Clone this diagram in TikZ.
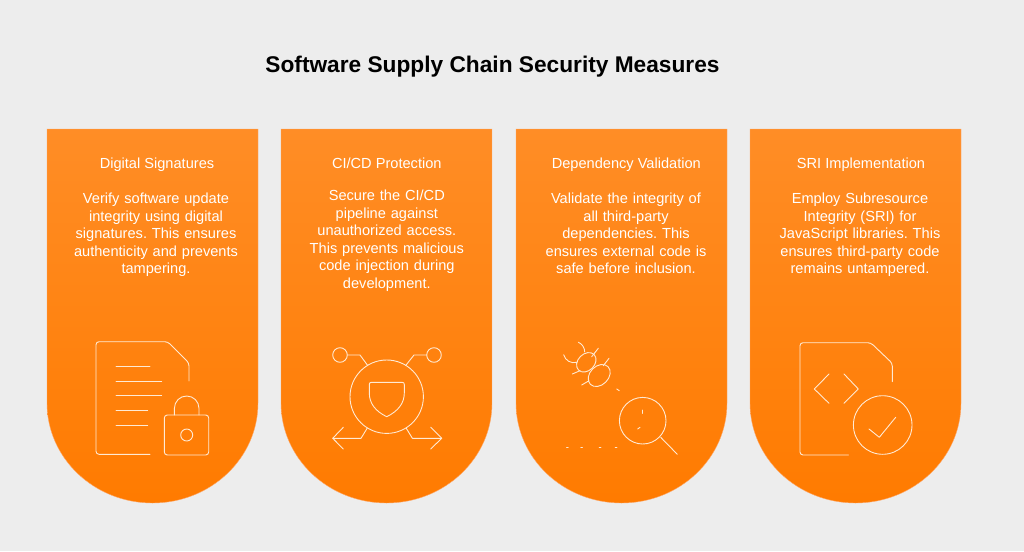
\documentclass[tikz,border=0pt]{standalone}
\usepackage{fontspec}
\setmainfont{Liberation Sans}
\frenchspacing
\definecolor{bg}{RGB}{237,237,237}
\definecolor{ptop}{RGB}{255,141,38}
\definecolor{pbot}{RGB}{255,123,0}
\definecolor{iconc}{RGB}{255,234,212}
\definecolor{pedge}{RGB}{255,168,105}
\begin{document}
\begin{tikzpicture}[x=1pt,y=-1pt,
  panel/.style={top color=ptop,bottom color=pbot,draw=pedge,line width=0.4pt},
  ptitle/.style={text=white,font=\fontsize{14.6}{17.5}\selectfont,anchor=base,inner sep=0pt},
  pbody/.style={text=white,font=\fontsize{14.6}{17.5}\selectfont\frenchspacing,anchor=north,inner sep=0pt,align=center,text width=205pt},
  icon/.style={draw=iconc,line width=0.9pt,line cap=round,line join=round}]
\fill[bg] (0,0) rectangle (1024,551);
\useasboundingbox (0,0) rectangle (1024,551);

% title
\node[anchor=base,inner sep=0pt,font=\bfseries\fontsize{22.7}{27}\selectfont] (title) at (492.5,72.3) {Software Supply Chain Security Measures};

% panels
\foreach \L in {47,281,516,750}{
  \path[panel] (\L,129) -- ++(211,0) -- ++(0,274)
    arc[start angle=0,end angle=-180,x radius=105.5pt,y radius=100pt] -- cycle;
}

% panel texts
\node[ptitle] (t1) at (157,168.5) {Digital Signatures};
\node[pbody] (b1) at (156,191.05) {\strut Verify software update\\integrity using digital\\signatures. This ensures\\authenticity and prevents\\tampering.};
\node[ptitle] (t2) at (386.8,168.5) {CI/CD Protection};
\node[pbody] (b2) at (386.8,188.45) {\strut Secure the CI/CD\\pipeline against\\unauthorized access.\\This prevents malicious\\code injection during\\development.};
\node[ptitle] (t3) at (626.3,168.5) {Dependency Validation};
\node[pbody] (b3) at (626,191.05) {\strut Validate the integrity of\\all third-party\\dependencies. This\\ensures external code is\\safe before inclusion.};
\node[ptitle] (t4) at (861,168.5) {SRI Implementation};
\node[pbody] (b4) at (860,191.05) {\strut Employ Subresource\\Integrity (SRI) for\\JavaScript libraries. This\\ensures third-party code\\remains untampered.};

% icon 1: document with lock
\draw[icon,rounded corners=3pt] (150,454.3) -- (96,454.3) -- (96,341.7) -- (167.7,341.7) -- (189,363) -- (189,381);
\draw[icon] (116,366.7) -- (150,366.7);
\draw[icon] (116,381.3) -- (161.7,381.3);
\draw[icon] (116,395.7) -- (161.7,395.7);
\draw[icon] (116,410.3) -- (147.7,410.3);
\draw[icon] (116,425) -- (147.7,425);
\draw[icon,rounded corners=3pt] (164.3,415) rectangle (208.7,455);
\draw[icon] (174.4,415) -- (174.4,408.3) arc[start angle=180,end angle=0,radius=12.3pt] -- (199,415);
\draw[icon] (186.7,435) circle[radius=6pt];

% icon 2: shield in circle with connectors
\draw[icon] (386.7,396.7) circle[radius=36.7pt];
\draw[icon] (386.7,416.7) .. controls (375,411) and (369.3,403) .. (369.3,393) -- (369.3,384.5)
  .. controls (369.3,383) and (370,382.3) .. (371.5,382.3) -- (402,382.3)
  .. controls (403.6,382.3) and (404.3,383) .. (404.3,384.5) -- (404.3,393)
  .. controls (404.3,403) and (398.4,411) .. cycle;
\draw[icon] (340,355) circle[radius=7.3pt];
\draw[icon] (434,355) circle[radius=7.3pt];
\draw[icon] (347.3,355) -- (360,355) -- (367.7,365.5);
\draw[icon] (426.7,355) -- (414,355) -- (405.7,365.5);
\draw[icon] (367.3,428) -- (361,438.3) -- (332.7,438.3);
\draw[icon] (343.3,427.3) -- (332.7,438.3) -- (343.3,449);
\draw[icon] (406.1,428) -- (412.4,438.3) -- (441.7,438.3);
\draw[icon] (430.7,427.3) -- (441.7,438.3) -- (430.7,449);

% icon 3: bug and magnifier
\draw[icon] (574,352) ++(66:10.7pt) arc[start angle=66,end angle=0,radius=10.7pt];
\draw[icon] (574,352) ++(-75:10.7pt) arc[start angle=-75,end angle=-165,radius=10.7pt];
\draw[icon,rotate around={45:(586.3,362.3)}] (586.3,362.3) ellipse[x radius=11pt,y radius=8.3pt];
\draw[icon,rotate around={45:(599.2,375.5)}] (599.2,375.5) ellipse[x radius=12.5pt,y radius=9.3pt];
\draw[icon] (591.7,356.7) -- (598.3,348.3);
\draw[icon] (603.3,365.7) -- (609,358.3);
\draw[icon] (572.3,374) -- (580,370.7);
\draw[icon] (581.7,385) -- (589,380.7);
\draw[icon] (616.7,389) -- (619.3,390.7);
\draw[icon] (642.7,420.7) circle[radius=23.3pt];
\draw[icon] (660.7,437.3) -- (677.3,454.3);
\draw[icon] (642.7,410) -- (642.7,413.3);
\draw[icon] (637.7,429) -- (640,427.3);
\foreach \x in {567.3,581.7,600,616}{
  \draw[icon] (\x-0.8,447.7) -- (\x+0.8,447.7);
}

% icon 4: code document with check
\draw[icon,rounded corners=3pt] (848.3,455) -- (800,455) -- (800,342.7) -- (870.7,342.7) -- (892.3,363.3) -- (892.3,381.7);
\draw[icon] (829,374) -- (814.3,389) -- (829,403.3);
\draw[icon] (844,374) -- (858.3,389) -- (844,403.3);
\draw[icon] (882.7,425) circle[radius=29.3pt];
\draw[icon] (869,429) -- (879.3,437.3) -- (895.7,417.3);
\end{tikzpicture}
\end{document}
